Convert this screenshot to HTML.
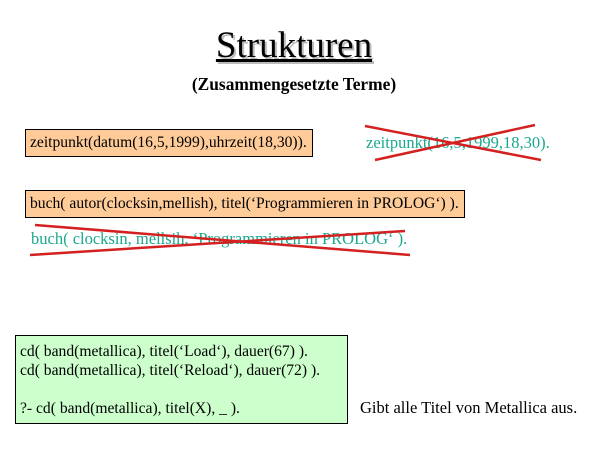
<!DOCTYPE html>
<html><head><meta charset="utf-8"><style>
body{margin:0;width:600px;height:450px;background:#fff;position:relative;overflow:hidden;font-family:"Liberation Serif",serif;}
.a{position:absolute;white-space:nowrap;}
.box{position:absolute;border:1px solid #000;font-size:15.6px;line-height:26px;padding:0 4px;box-sizing:border-box;white-space:nowrap;}
.cy{color:#1aa98e;font-size:16.5px;}
</style></head><body>
<div class="a" style="left:0;width:588px;text-align:center;top:24px;font-size:37px;text-decoration:underline;text-shadow:2px 2px 0 #bbb;">Strukturen</div>
<div class="a" style="left:0;width:588px;text-align:center;top:74px;font-size:17.4px;font-weight:bold;">(Zusammengesetzte Terme)</div>
<div class="box" style="left:25px;top:129px;width:288px;height:28px;background:#ffcc99;">zeitpunkt(datum(16,5,1999),uhrzeit(18,30)).</div>
<div class="a cy" style="left:366px;top:133px;">zeitpunkt(16,5,1999,18,30).</div>
<div class="box" style="left:25px;top:190px;width:440px;height:28px;background:#ffcc99;font-size:15.6px;">buch( autor(clocksin,mellish), titel(‘Programmieren in PROLOG‘) ).</div>
<div class="a cy" style="left:31px;top:229px;">buch( clocksin, mellsih, ‘Programmieren in PROLOG‘ ).</div>
<svg class="a" style="left:0;top:0" width="600" height="450">
<g stroke="#d42020" stroke-width="2.5" fill="none">
<line x1="365" y1="126" x2="541" y2="160"/><line x1="375" y1="160" x2="535" y2="125"/>
<line x1="35" y1="225" x2="410" y2="255"/><line x1="30" y1="255" x2="405" y2="231"/>
</g></svg>
<div class="box" style="left:15px;top:335px;width:333px;height:89px;background:#ccffcc;line-height:19px;padding-top:6px;">cd( band(metallica), titel(‘Load‘), dauer(67) ).<br>cd( band(metallica), titel(‘Reload‘), dauer(72) ).<br><br>?- cd( band(metallica), titel(X), _ ).</div>
<div class="a" style="left:360px;top:398px;font-size:16.5px;">Gibt alle Titel von Metallica aus.</div>
</body></html>
